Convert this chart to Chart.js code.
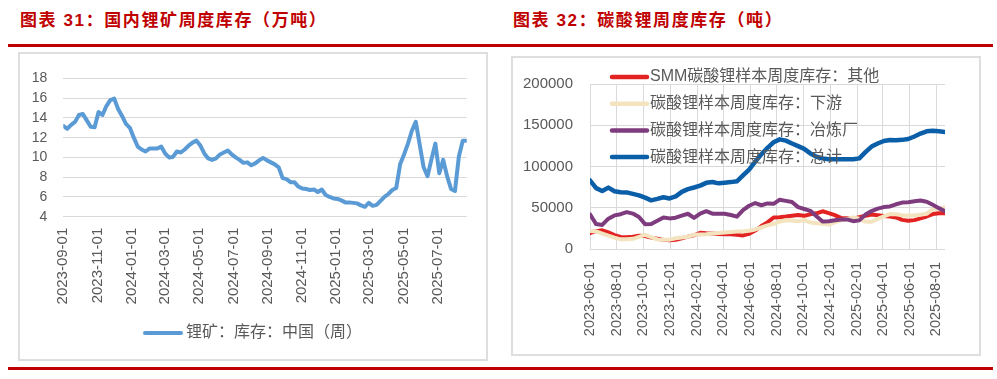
<!DOCTYPE html>
<html><head><meta charset="utf-8">
<script src="https://cdn.jsdelivr.net/npm/chart.js@4.4.1/dist/chart.umd.min.js"></script>
<style>
html,body{margin:0;padding:0;background:#fff;}
body{width:997px;height:379px;position:relative;overflow:hidden;font-family:"Liberation Sans","Noto Sans CJK SC",sans-serif;}
.title{position:absolute;top:9px;font-family:"Liberation Sans","Noto Sans CJK SC",sans-serif;font-weight:bold;font-size:17px;color:#C00000;letter-spacing:1.6px;white-space:nowrap;line-height:24px;}
.rule{position:absolute;left:8px;width:985px;height:3px;background:#C00000;}
.box{position:absolute;border:2px solid #DEDEDE;box-sizing:border-box;}
.cv{position:absolute;}
</style></head>
<body>
<div class="title" style="left:20px;">图表 31：国内锂矿周度库存（万吨）</div>
<div class="title" style="left:513px;">图表 32：碳酸锂周度库存（吨）</div>
<div class="rule" style="top:44px;"></div>
<div class="box" style="left:18px;top:52px;width:470px;height:309px;"></div>
<div class="box" style="left:511px;top:56px;width:470px;height:300px;"></div>
<div class="cv" style="left:20px;top:54px;width:466px;height:305px;"><canvas id="c1"></canvas></div>
<div class="cv" style="left:513px;top:58px;width:466px;height:296px;"><canvas id="c2"></canvas></div>
<div class="rule" style="top:367px;"></div>
<script>
// ---------- Chart 31: 国内锂矿周度库存（万吨）, weekly ----------
const mineFirstWeek = '2023-09-01';
const mineSeriesLabel = '锂矿：库存：中国（周）';
const mineValues = [
13.2,12.9,13.3,13.6,14.3,14.4,13.75,13.1,13.05,14.6,
14.3,15.2,15.8,15.95,14.9,14.2,13.4,13.0,12.0,11.1,
10.8,10.6,10.9,10.9,10.9,11.1,10.4,10.0,10.05,10.6,
10.5,10.8,11.2,11.5,11.7,11.2,10.4,9.9,9.75,9.9,
10.3,10.5,10.7,10.3,10.0,9.75,9.45,9.5,9.2,9.4,
9.7,9.95,9.7,9.5,9.3,9.0,7.9,7.8,7.5,7.5,
7.05,6.85,6.8,6.7,6.75,6.5,6.75,6.2,6.0,5.85,
5.8,5.65,5.45,5.45,5.4,5.35,5.15,5.0,5.4,5.1,
5.2,5.6,6.0,6.3,6.7,6.9,9.3,10.3,11.4,12.7,
13.6,11.3,9.0,8.1,9.8,11.4,8.4,9.75,8.1,6.8,
6.6,10.1,11.7,11.7];
const mineXTicks = ['2023-09-01','2023-11-01','2024-01-01','2024-03-01','2024-05-01','2024-07-01',
'2024-09-01','2024-11-01','2025-01-01','2025-03-01','2025-05-01','2025-07-01'];
const mineYTicks = [4,6,8,10,12,14,16,18];

// ---------- Chart 32: 碳酸锂周度库存（吨）, sampled every two weeks ----------
const lceFirstDate = '2023-06-01';
const lceStepDays = 14;
const lceLabels = ['SMM碳酸锂样本周度库存：其他','碳酸锂样本周度库存：下游','碳酸锂样本周度库存：冶炼厂','碳酸锂样本周度库存：总计'];
const lceOther = [19600,22000,23000,20400,17200,15000,14600,15300,16500,16000,
14100,12900,11400,11000,11500,13200,15300,17000,19900,19400,
19200,18500,18300,18100,17600,16800,18800,22700,28200,32600,
38500,38900,39600,40600,41500,40500,42400,43500,46000,43800,
41300,38000,37600,37100,38800,40600,42200,41300,40200,39600,
38600,35600,34600,35300,37400,39700,42600,43500,43500];
const lceDownstream = [22300,21600,19000,16500,14200,12100,12300,12700,15000,17400,
14800,12000,11500,11700,13300,14400,15300,17500,18000,18100,
19100,19600,20400,21000,21500,21500,22400,24000,26400,29000,
30900,33600,35200,34800,33800,35400,32500,31500,30900,30000,
32500,35000,36700,38500,37000,33500,33300,36800,39900,42700,
42500,41000,40800,40900,41900,43000,48200,49000,51000];
const lceSmelter = [42300,30500,29500,37000,41000,42500,45000,43200,39000,30400,
30500,34500,38400,37400,38200,40700,43000,38000,43300,46100,
43100,43100,43100,41500,39500,47500,52700,56000,53300,55500,
55000,60000,58600,57200,51000,48800,46500,40000,33500,34000,
35200,36100,36200,34000,35000,42000,46300,49200,51100,51800,
54500,56500,57000,58100,59000,57600,53800,49800,46200];
const lceTotal = [83300,74000,70500,74600,70300,69000,68800,67000,65200,62500,
59200,61000,63000,61500,64000,69500,72800,74800,77000,80400,
81500,79800,80600,81300,82300,89500,96500,106000,115000,122800,
129500,133000,131500,128000,124800,121500,116000,112000,110000,109000,
109000,109000,109000,109000,110000,117500,124300,128000,131000,132300,
132000,132400,133500,136500,140000,142700,143300,142700,142000];
const lceXTicks = ['2023-06-01','2023-08-01','2023-10-01','2023-12-01','2024-02-01','2024-04-01',
'2024-06-01','2024-08-01','2024-10-01','2024-12-01','2025-02-01','2025-04-01','2025-06-01','2025-08-01'];
const lceYTicks = [0,50000,100000,150000,200000];

// ---------- helpers ----------
function dayNum(s){const p=s.split('-').map(Number);return Date.UTC(p[0],p[1]-1,p[2])/86400000;}
function fmtDay(v){const d=new Date(Math.round(v)*86400000);const m=String(d.getUTCMonth()+1).padStart(2,'0');const dd=String(d.getUTCDate()).padStart(2,'0');return d.getUTCFullYear()+'-'+m+'-'+dd;}
function toPoints(start, step, vals){const s=dayNum(start);return vals.map((v,i)=>({x:s+i*step,y:v}));}

const FONT = '"Liberation Sans","Noto Sans CJK SC",sans-serif';
const TICK_COLOR = '#595959';
const GRID = '#D9D9D9';

const customLegend = {
  id:'customLegend',
  afterDatasetsDraw(chart, args, o){
    const ctx=chart.ctx; ctx.save();
    chart.data.datasets.forEach((ds,i)=>{
      const y=o.y+i*o.rowGap;
      ctx.strokeStyle=ds.borderColor; ctx.lineWidth=o.lineWidth; ctx.lineCap='round';
      ctx.beginPath(); ctx.moveTo(o.x,y); ctx.lineTo(o.x+o.sample,y); ctx.stroke();
      ctx.fillStyle=o.color; ctx.font=o.font; ctx.textBaseline='middle'; ctx.textAlign='left';
      ctx.fillText(ds.label,o.x+o.sample+o.gap,y);
    });
    ctx.restore();
  }
};

function xScale(ticks, minD, maxD, fontSize, pad, height, showGrid){
  return {
    type:'linear', min:minD, max:maxD,
    afterBuildTicks:(s)=>{s.ticks=ticks.map(t=>({value:dayNum(t)}));},
    afterFit:(s)=>{s.height=height;},
    ticks:{autoSkip:false,minRotation:90,maxRotation:90,padding:pad,color:TICK_COLOR,font:{family:FONT,size:fontSize},callback:(v)=>fmtDay(v)},
    grid:{display:showGrid,color:GRID,lineWidth:1,drawTicks:false},
    border:{display:false}
  };
}
function yScale(ticks, fontSize, pad, width){
  return {
    min:ticks[0], max:ticks[ticks.length-1],
    afterBuildTicks:(s)=>{s.ticks=ticks.map(v=>({value:v}));},
    afterFit:(s)=>{s.width=width;},
    ticks:{autoSkip:false,padding:pad,color:TICK_COLOR,font:{family:FONT,size:fontSize},callback:(v)=>String(v)},
    grid:{color:GRID,lineWidth:1,drawTicks:false},
    border:{display:false}
  };
}

const minePts = toPoints(mineFirstWeek,7,mineValues);
new Chart(document.getElementById('c1'),{
  type:'line',
  data:{datasets:[{label:mineSeriesLabel,data:minePts,borderColor:'#5B9BD5',backgroundColor:'#5B9BD5',borderWidth:4,pointRadius:0,tension:0,borderJoinStyle:'round',borderCapStyle:'round'}]},
  options:{
    responsive:true,maintainAspectRatio:false,animation:false,
    layout:{padding:{top:19.3,right:19.3,left:0,bottom:0}},
    plugins:{legend:{display:false},tooltip:{enabled:false},
      customLegend:{x:125,y:279,rowGap:0,sample:36,gap:5,lineWidth:4,color:'#595959',font:'16px '+FONT}},
    scales:{
      x:xScale(mineXTicks,minePts[0].x,minePts[minePts.length-1].x,15,11,142.3,false),
      y:yScale(mineYTicks,14,16,43.3)
    }
  },
  plugins:[customLegend]
});

const lceSeries=[lceOther,lceDownstream,lceSmelter,lceTotal];
const lceColors=['#E32322','#F3E3BF','#7E3B7D','#0B5EA8'];
const lceWidths=[4,4,4,4.5];
const lceOrder=[3,2,1,0];
const lceDatasets=lceSeries.map((vals,i)=>({label:lceLabels[i],data:toPoints(lceFirstDate,lceStepDays,vals),borderColor:lceColors[i],backgroundColor:lceColors[i],borderWidth:lceWidths[i],pointRadius:0,tension:0,borderJoinStyle:'round',borderCapStyle:'round',order:lceOrder[i]}));
const lceN=lceTotal.length;
new Chart(document.getElementById('c2'),{
  type:'line',
  data:{datasets:lceDatasets},
  options:{
    responsive:true,maintainAspectRatio:false,animation:false,
    layout:{padding:{top:17,right:34,left:0,bottom:0}},
    plugins:{legend:{display:false},tooltip:{enabled:false},
      customLegend:{x:99,y:19,rowGap:26.7,sample:35,gap:3,lineWidth:4.5,color:'#595959',font:'16px '+FONT}},
    scales:{
      x:xScale(lceXTicks,dayNum(lceFirstDate),dayNum(lceFirstDate)+(lceN-1)*lceStepDays,14.5,12.7,104.7,true),
      y:yScale(lceYTicks,15,17,77)
    }
  },
  plugins:[customLegend]
});
</script>
</body></html>
